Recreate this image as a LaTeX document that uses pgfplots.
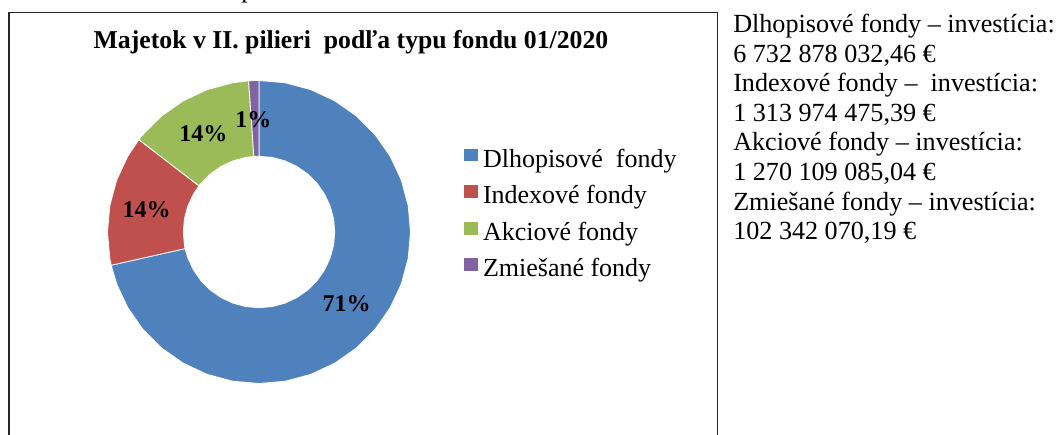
\documentclass[border=0pt]{standalone}
\usepackage{pgfplots}
\pgfplotsset{compat=1.18}
\usepgfplotslibrary{polar}
\usepackage{fontspec}
\setmainfont{Liberation Serif}
\definecolor{cBlue}{HTML}{4F81BD}
\definecolor{cRed}{HTML}{C0504D}
\definecolor{cGreen}{HTML}{9BBB59}
\definecolor{cPurple}{HTML}{8064A2}
% Values (EUR): Dlhopisove 6732878032.46, Indexove 1313974475.39,
% Akciove 1270109085.04, Zmiesane 102342070.19
% Shares: 71.48 %, 13.95 %, 13.48 %, 1.09 %  -> angles clockwise from top
\begin{document}
\begin{tikzpicture}[x=0.75pt,y=-0.75pt]
\useasboundingbox (0,0) rectangle (1058,435);
% frame
\draw[line width=1.1pt,black!85] (9,436) -- (9,12.5) -- (717.3,12.5) -- (717.3,436);
% fragment of previous line
\node[anchor=base west,inner sep=0pt,font=\fontsize{19.5}{23}\selectfont] at (241,-2) {p};
% title
\node[anchor=base,inner sep=0pt,font=\fontsize{19.3}{23}\selectfont\bfseries] at (351,48.3) {Majetok v II. pilieri\ \ podľa typu fondu 01/2020};
% side text
\begin{scope}[every node/.style={anchor=base west,inner sep=0pt,font=\fontsize{19.6}{23}\selectfont}]
\node at (733,32.5) {Dlhopisové fondy – investícia:};
\node at (733,62.1) {6 732 878 032,46 €};
\node at (733,91.7) {Indexové fondy –\ \ investícia:};
\node at (733,121.3) {1 313 974 475,39 €};
\node at (733,150.9) {Akciové fondy – investícia:};
\node at (733,180.5) {1 270 109 085,04 €};
\node at (733,210.1) {Zmiešané fondy – investícia:};
\node at (733,239.7) {102 342 070,19 €};
\end{scope}
\begin{polaraxis}[
  at={(194.25pt,-174pt)}, anchor=center,
  scale only axis, width=227.25pt, height=227.25pt,
  ymin=0, ymax=1, clip=false,
  hide axis,
  legend style={draw=none, fill=none, inner sep=0pt, outer sep=0pt,
    at={(axis description cs:1.1766,0.80)}, anchor=north west,
    font=\fontsize{19.5}{23}\selectfont,
    column sep=3.75pt, row sep=0pt,
    nodes={inner sep=0pt, text height=19.5pt, text depth=7.95pt}},
  legend cell align=left,
  legend image code/.code={\fill[#1,draw=none] (0pt,-1.45pt) rectangle (10.5pt,8.05pt);},
]
\addplot[fill=cBlue, draw=white, line width=0.6pt] coordinates {
 (90,1) (80,1) (70,1) (60,1) (50,1) (40,1) (30,1) (20,1) (10,1) (0,1)
 (-10,1) (-20,1) (-30,1) (-40,1) (-50,1) (-60,1) (-70,1) (-80,1) (-90,1)
 (-100,1) (-110,1) (-120,1) (-130,1) (-140,1) (-150,1) (-160,1) (-167.33,1)
 (-167.33,0.5) (-160,0.5) (-150,0.5) (-140,0.5) (-130,0.5) (-120,0.5) (-110,0.5)
 (-100,0.5) (-90,0.5) (-80,0.5) (-70,0.5) (-60,0.5) (-50,0.5) (-40,0.5) (-30,0.5)
 (-20,0.5) (-10,0.5) (0,0.5) (10,0.5) (20,0.5) (30,0.5) (40,0.5) (50,0.5) (60,0.5)
 (70,0.5) (80,0.5) (90,0.5) (90,1)
};
\addlegendentry{Dlhopisové\ \ fondy}
\addplot[fill=cRed, draw=white, line width=0.6pt] coordinates {
 (-167.33,1) (-170,1) (-180,1) (-190,1) (-200,1) (-210,1) (-217.55,1)
 (-217.55,0.5) (-210,0.5) (-200,0.5) (-190,0.5) (-180,0.5) (-170,0.5) (-167.33,0.5) (-167.33,1)
};
\addlegendentry{Indexové fondy}
\addplot[fill=cGreen, draw=white, line width=0.6pt] coordinates {
 (142.45,1) (140,1) (130,1) (120,1) (110,1) (100,1) (93.92,1)
 (93.92,0.5) (100,0.5) (110,0.5) (120,0.5) (130,0.5) (140,0.5) (142.45,0.5) (142.45,1)
};
\addlegendentry{Akciové fondy}
\addplot[fill=cPurple, draw=white, line width=0.6pt] coordinates {
 (93.92,1) (92,1) (90,1) (90,0.5) (92,0.5) (93.92,0.5) (93.92,1)
};
\addlegendentry{Zmiešané fondy}
\begin{scope}[every node/.style={font=\fontsize{18}{20}\selectfont\bfseries, inner sep=0pt}]
\node at (axis cs:-39.1,0.746) {71\%};
\node at (axis cs:168.6,0.756) {14\%};
\node at (axis cs:119.4,0.748) {14\%};
\node at (axis cs:92.9,0.745) {1\%};
\end{scope}
\end{polaraxis}
\end{tikzpicture}
\end{document}
